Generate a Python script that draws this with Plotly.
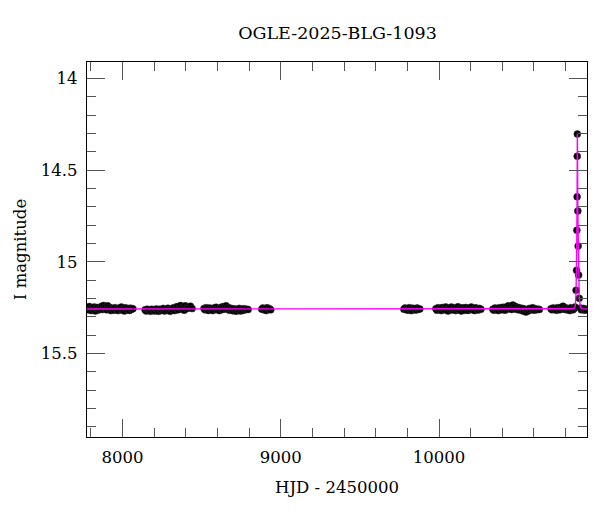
import plotly.graph_objects as go

# ---- baseline photometry, per observing season (HJD-2450000, I mag) ----
s1_t = [7779, 7785, 7791, 7797, 7803, 7810, 7816, 7822, 7829, 7835, 7842, 7848, 7855, 7861, 7868,
        7874, 7881, 7888, 7894, 7901, 7907, 7914, 7920, 7927, 7934, 7940, 7947, 7953, 7960, 7966,
        7973, 7980, 7986, 7993, 7999, 8006, 8012, 8019, 8025, 8032, 8039, 8045, 8052, 8058, 8066]
s1_m = [15.250, 15.262, 15.244, 15.258, 15.266, 15.252, 15.260, 15.247, 15.268, 15.255, 15.249, 15.263, 15.258, 15.251, 15.242,
        15.260, 15.238, 15.255, 15.246, 15.262, 15.240, 15.257, 15.249, 15.266, 15.253, 15.259, 15.264, 15.250, 15.261, 15.256,
        15.266, 15.252, 15.260, 15.247, 15.263, 15.256, 15.268, 15.251, 15.259, 15.262, 15.254, 15.265, 15.253, 15.258, 15.256]

s2_t = [8143, 8150, 8157, 8164, 8171, 8178, 8185, 8192, 8199, 8206, 8214, 8221, 8228, 8235, 8243,
        8250, 8257, 8265, 8272, 8279, 8287, 8294, 8301, 8308, 8316, 8323, 8330, 8338, 8345, 8352,
        8360, 8367, 8375, 8382, 8390, 8397, 8405, 8413, 8421, 8430, 8440]
s2_m = [15.262, 15.268, 15.258, 15.265, 15.262, 15.270, 15.259, 15.266, 15.261, 15.268, 15.257, 15.264, 15.270, 15.259, 15.266,
        15.262, 15.254, 15.268, 15.260, 15.265, 15.253, 15.262, 15.270, 15.257, 15.261, 15.250, 15.266, 15.255, 15.244, 15.262,
        15.252, 15.238, 15.258, 15.248, 15.264, 15.240, 15.256, 15.245, 15.250, 15.242, 15.255]

s3_t = [8515, 8522, 8529, 8536, 8543, 8550, 8557, 8564, 8571, 8578, 8585, 8592, 8599, 8606, 8613,
        8620, 8627, 8634, 8641, 8648, 8655, 8662, 8669, 8676, 8683, 8690, 8697, 8704, 8711, 8718,
        8725, 8732, 8739, 8746, 8753, 8760, 8767, 8775, 8783, 8794]
s3_m = [15.254, 15.262, 15.250, 15.258, 15.265, 15.252, 15.260, 15.256, 15.266, 15.252, 15.258, 15.248, 15.262, 15.255, 15.266,
        15.254, 15.247, 15.260, 15.244, 15.256, 15.240, 15.258, 15.250, 15.264, 15.253, 15.260, 15.267, 15.256, 15.262, 15.270,
        15.258, 15.264, 15.254, 15.268, 15.259, 15.265, 15.256, 15.262, 15.258, 15.260]

s4_t = [8880, 8887, 8894, 8901, 8908, 8915, 8922, 8929, 8937]
s4_m = [15.258, 15.252, 15.262, 15.255, 15.266, 15.251, 15.260, 15.256, 15.262]

s5_t = [9778, 9785, 9792, 9799, 9806, 9813, 9820, 9827, 9834, 9841, 9848, 9855, 9862, 9870, 9879]
s5_m = [15.258, 15.252, 15.262, 15.255, 15.264, 15.250, 15.259, 15.266, 15.253, 15.260, 15.256, 15.263, 15.252, 15.259, 15.257]

s6_t = [9980, 9987, 9994, 10001, 10008, 10015, 10022, 10029, 10036, 10043, 10050, 10057, 10064, 10071, 10078,
        10085, 10092, 10099, 10106, 10113, 10120, 10127, 10134, 10141, 10148, 10155, 10162, 10169, 10176, 10183,
        10190, 10197, 10204, 10211, 10218, 10225, 10232, 10240, 10248, 10256, 10265]
s6_m = [15.256, 15.264, 15.250, 15.260, 15.254, 15.266, 15.249, 15.258, 15.262, 15.246, 15.256, 15.268, 15.252, 15.260, 15.247,
        15.263, 15.255, 15.250, 15.266, 15.258, 15.245, 15.262, 15.254, 15.268, 15.251, 15.259, 15.264, 15.249, 15.257, 15.265,
        15.252, 15.260, 15.247, 15.262, 15.255, 15.266, 15.251, 15.258, 15.263, 15.254, 15.259]

s7_t = [10340, 10347, 10354, 10361, 10368, 10375, 10382, 10389, 10396, 10403, 10410, 10417, 10424, 10431, 10438,
        10445, 10452, 10459, 10466, 10473, 10480, 10487, 10494, 10501, 10508, 10515, 10522, 10529, 10536, 10543,
        10550, 10557, 10564, 10571, 10578, 10585, 10592, 10600, 10608, 10616, 10625, 10634]
s7_m = [15.258, 15.264, 15.252, 15.260, 15.255, 15.266, 15.250, 15.258, 15.262, 15.248, 15.256, 15.264, 15.246, 15.258, 15.240,
        15.254, 15.244, 15.260, 15.236, 15.252, 15.242, 15.258, 15.248, 15.262, 15.250, 15.256, 15.266, 15.254, 15.270, 15.258,
        15.274, 15.262, 15.268, 15.254, 15.262, 15.258, 15.250, 15.264, 15.256, 15.262, 15.258, 15.260]

s8_t = [10707, 10714, 10721, 10728, 10735, 10742, 10749, 10756, 10763, 10770, 10777, 10784, 10791, 10798, 10805,
        10812, 10819, 10826, 10833, 10840, 10847, 10853, 10859, 10893, 10899, 10906, 10913, 10920, 10927, 10932]
s8_m = [15.256, 15.262, 15.252, 15.260, 15.255, 15.264, 15.250, 15.258, 15.262, 15.248, 15.256, 15.242, 15.258, 15.250, 15.262,
        15.254, 15.260, 15.266, 15.250, 15.258, 15.262, 15.255, 15.247, 15.252, 15.262, 15.258, 15.254, 15.264, 15.258, 15.262]

# ---- the event itself ----
peak_t = [10866, 10869, 10871, 10872.5, 10873.3, 10874, 10877, 10879, 10882, 10886]
peak_m = [15.155, 15.046, 14.827, 14.645, 14.423, 14.302, 14.722, 14.914, 15.072, 15.199]

# ---- model light curve ----
model_t = [7776, 10850, 10858, 10862, 10866, 10869, 10871, 10872.5, 10873.5, 10874, 10875,
           10877, 10879, 10882, 10886, 10892, 10900, 10935]
model_m = [15.257, 15.256, 15.250, 15.230, 15.160, 15.040, 14.840, 14.640, 14.400, 14.300, 14.400,
           14.720, 14.910, 15.070, 15.190, 15.240, 15.255, 15.257]

title_text = "OGLE-2025-BLG-1093"
x_label = "HJD - 2450000"
y_label = "I magnitude"

hjd = s1_t + s2_t + s3_t + s4_t + s5_t + s6_t + s7_t + s8_t + peak_t
mag = s1_m + s2_m + s3_m + s4_m + s5_m + s6_m + s7_m + s8_m + peak_m

FONT = "DejaVu Serif"

fig = go.Figure()
fig.add_trace(go.Scatter(
    x=hjd, y=mag, mode="markers",
    marker=dict(color="#000000", size=7, line=dict(width=0.5, color="#333333")),
    showlegend=False,
))
fig.add_trace(go.Scatter(
    x=model_t, y=model_m, mode="lines",
    line=dict(color="#ff00ff", width=1.4),
    showlegend=False,
))

axis_common = dict(
    showline=True, linecolor="black", linewidth=1.3, mirror="ticks",
    ticks="inside", tickcolor="#555555", tickwidth=1.2,
    showgrid=False, zeroline=False, automargin=False,
    ticklabelstandoff=5,
    tickfont=dict(family=FONT, size=16.5, color="black"),
)

fig.update_xaxes(
    range=[7776, 10935], dtick=1000, tick0=0, ticklen=18, tickformat="d",
    minor=dict(dtick=200, tick0=0, ticklen=9, ticks="inside", tickcolor="#555555", tickwidth=1.2, showgrid=False),
    title=dict(text=x_label, font=dict(family=FONT, size=16.5, color="black"), standoff=15),
    **axis_common,
)
fig.update_yaxes(
    range=[15.956, 13.909], dtick=0.5, tick0=0, ticklen=18,
    minor=dict(dtick=0.1, tick0=0, ticklen=9, ticks="inside", tickcolor="#555555", tickwidth=1.2, showgrid=False),
    title=dict(text=y_label, font=dict(family=FONT, size=16.5, color="black"), standoff=10),
    **axis_common,
)

# the page adds an 8px body margin, so the figure is 8px smaller and margins shifted
fig.update_layout(
    width=592, height=504,
    margin=dict(l=79, r=13, t=54, b=75),
    paper_bgcolor="white", plot_bgcolor="white",
    title=dict(text=title_text, x=(337.5 - 8) / 592, xanchor="center", y=1 - 25 / 504, yanchor="middle",
               yref="container", xref="container", automargin=False,
               font=dict(family=FONT, size=17.5, color="black")),
)

fig.write_html("out.html")
